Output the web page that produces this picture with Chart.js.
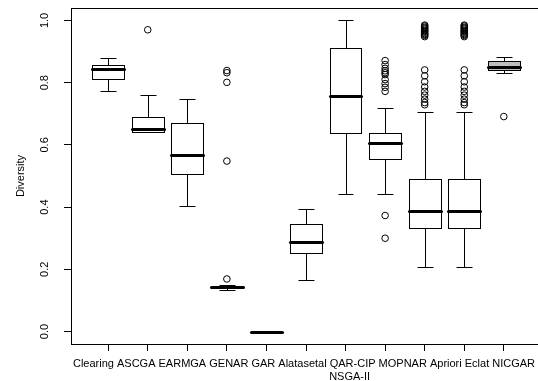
<!DOCTYPE html>
<html lang="en">
<head>
<meta charset="UTF-8">
<title>Diversity</title>
<script src="https://cdn.jsdelivr.net/npm/chart.js"></script>
<style>
  html, body { margin: 0; padding: 0; overflow: hidden; background: #fff; }
  canvas { display: block; }
</style>
</head>
<body>
<canvas id="chart" width="546" height="381"></canvas>
<script>
  // box statistics, one value per algorithm
  const categories = ['Clearing', 'ASCGA', 'EARMGA', 'GENAR', 'GAR', 'Alatasetal',
    'QAR-CIP', 'MOPNAR', 'Apriori', 'Eclat', 'NICGAR'];
  const subLabels = ['', '', '', '', '', '', 'NSGA-II', '', '', '', ''];
  const whiskerLow  = [0.774, 0.640, 0.405, 0.132, 0, 0.165, 0.442, 0.443, 0.208, 0.208, 0.831];
  const quartile1   = [0.812, 0.640, 0.507, 0.140, 0, 0.254, 0.638, 0.556, 0.334, 0.334, 0.841];
  const medians     = [0.845, 0.651, 0.567, 0.144, 0, 0.288, 0.758, 0.606, 0.389, 0.389, 0.850];
  const quartile3   = [0.858, 0.691, 0.669, 0.147, 0, 0.345, 0.910, 0.638, 0.489, 0.489, 0.870];
  const whiskerHigh = [0.879, 0.761, 0.748, 0.150, 0, 0.394, 1.000, 0.720, 0.706, 0.706, 0.883];
  const outliers = [
    [],
    [0.970],
    [],
    [0.839, 0.832, 0.801, 0.548, 0.169],
    [],
    [],
    [],
    [0.871, 0.858, 0.846, 0.838, 0.832, 0.826, 0.810, 0.797, 0.785, 0.772, 0.373, 0.300],
    [0.985, 0.982, 0.978, 0.975, 0.972, 0.968, 0.965, 0.962, 0.958, 0.955, 0.952, 0.948,
      0.841, 0.822, 0.803, 0.786, 0.772, 0.760, 0.747, 0.736, 0.729],
    [0.985, 0.982, 0.978, 0.975, 0.972, 0.968, 0.965, 0.962, 0.958, 0.955, 0.952, 0.948,
      0.841, 0.822, 0.803, 0.786, 0.772, 0.760, 0.747, 0.736, 0.729],
    [0.691]
  ];
  const yTicks = [0, 0.2, 0.4, 0.6, 0.8, 1.0];

  // styling
  const boxFills = categories.map((c, i) => i === 10 ? '#bebebe' : '#ffffff');
  const boxHalf = 0.4;
  const stapleHalf = 0.2;
  const fontFamily = '"Liberation Sans", Arial, Helvetica, sans-serif';
  const textFont = '11px ' + fontFamily;

  const outlierPoints = [];
  outliers.forEach((list, i) => {
    list.forEach(v => outlierPoints.push({ x: i + 1, y: v }));
  });

  const crisp = v => Math.round(v) + 0.5;

  const boxPlugin = {
    id: 'rBoxes',
    beforeDatasetsDraw(chart) {
      const { ctx, scales: { x, y } } = chart;
      ctx.save();
      ctx.strokeStyle = '#000';
      medians.forEach((m, i) => {
        const cx = x.getPixelForValue(i + 1);
        const bw = x.getPixelForValue(i + 1 + boxHalf) - cx;
        const sw = x.getPixelForValue(i + 1 + stapleHalf) - cx;
        const left = crisp(cx - bw), right = crisp(cx + bw);
        const mid = crisp(cx);
        const yLo = crisp(y.getPixelForValue(whiskerLow[i]));
        const yQ1 = crisp(y.getPixelForValue(quartile1[i]));
        const yMed = crisp(y.getPixelForValue(m));
        const yQ3 = crisp(y.getPixelForValue(quartile3[i]));
        const yHi = crisp(y.getPixelForValue(whiskerHigh[i]));

        ctx.lineWidth = 1;
        ctx.lineCap = 'butt';
        ctx.beginPath();
        ctx.moveTo(mid, yQ1); ctx.lineTo(mid, yLo);
        ctx.moveTo(mid, yQ3); ctx.lineTo(mid, yHi);
        ctx.moveTo(crisp(cx - sw), yLo); ctx.lineTo(crisp(cx + sw), yLo);
        ctx.moveTo(crisp(cx - sw), yHi); ctx.lineTo(crisp(cx + sw), yHi);
        ctx.stroke();

        ctx.fillStyle = boxFills[i];
        ctx.fillRect(left, yQ3, right - left, yQ1 - yQ3);
        ctx.strokeRect(left, yQ3, right - left, yQ1 - yQ3);

        ctx.lineWidth = 3;
        ctx.lineCap = 'round';
        ctx.beginPath();
        ctx.moveTo(left, yMed); ctx.lineTo(right, yMed);
        ctx.stroke();
      });
      ctx.restore();
    },
    afterDraw(chart) {
      const { ctx, chartArea: a, scales: { x, y } } = chart;
      ctx.save();
      ctx.strokeStyle = '#000';
      ctx.lineWidth = 1;
      ctx.strokeRect(crisp(a.left), crisp(a.top), Math.round(a.right - a.left), Math.round(a.bottom - a.top));
      ctx.fillStyle = '#000';
      ctx.font = textFont;

      // R style y labels, parallel to the axis
      ctx.textAlign = 'center';
      ctx.textBaseline = 'middle';
      y.ticks.forEach(t => {
        ctx.save();
        ctx.translate(45, y.getPixelForValue(t.value));
        ctx.rotate(-Math.PI / 2);
        ctx.fillText(t.value.toFixed(1), 0, 0);
        ctx.restore();
      });

      // category names set as one line of text under the ticks
      const line = categories.join(' ');
      const centre = (x.getPixelForValue(1) + x.getPixelForValue(categories.length)) / 2 - 2;
      const start = centre - ctx.measureText(line).width / 2;
      const rowY = a.bottom + 20;
      ctx.textAlign = 'left';
      ctx.fillText(line, start, rowY);
      ctx.textAlign = 'center';
      subLabels.forEach((s, i) => {
        if (!s) return;
        const before = ctx.measureText(categories.slice(0, i).join(' ') + ' ').width;
        const w = ctx.measureText(categories[i]).width;
        ctx.fillText(s, start + before + w / 2 - 3, rowY + 13);
      });
      ctx.restore();
    }
  };

  new Chart(document.getElementById('chart'), {
    type: 'scatter',
    data: {
      datasets: [{
        data: outlierPoints,
        pointStyle: 'circle',
        pointRadius: 3.3,
        borderWidth: 1,
        borderColor: '#000',
        backgroundColor: 'rgba(0,0,0,0)'
      }]
    },
    options: {
      responsive: false,
      animation: false,
      layout: { padding: { top: 8, right: 3, left: 0, bottom: 0 } },
      plugins: {
        legend: { display: false },
        tooltip: { enabled: false }
      },
      scales: {
        x: {
          type: 'linear',
          min: 0.06,
          max: 11.94,
          afterBuildTicks: scale => { scale.ticks = categories.map((c, i) => ({ value: i + 1 })); },
          afterFit: scale => { scale.height = 37; },
          border: { display: false },
          grid: { drawOnChartArea: false, drawTicks: true, tickLength: 7, color: '#000' },
          ticks: { display: false }
        },
        y: {
          min: -0.04,
          max: 1.04,
          afterBuildTicks: scale => { scale.ticks = yTicks.map(v => ({ value: v })); },
          afterFit: scale => { scale.width = 71; },
          border: { display: false },
          grid: { drawOnChartArea: false, drawTicks: true, tickLength: 7, color: '#000' },
          ticks: { display: false },
          title: {
            display: true,
            text: 'Diversity',
            color: '#000',
            font: { size: 11, family: fontFamily },
            padding: { top: 14, bottom: 0 }
          }
        }
      }
    },
    plugins: [boxPlugin]
  });
</script>
</body>
</html>
